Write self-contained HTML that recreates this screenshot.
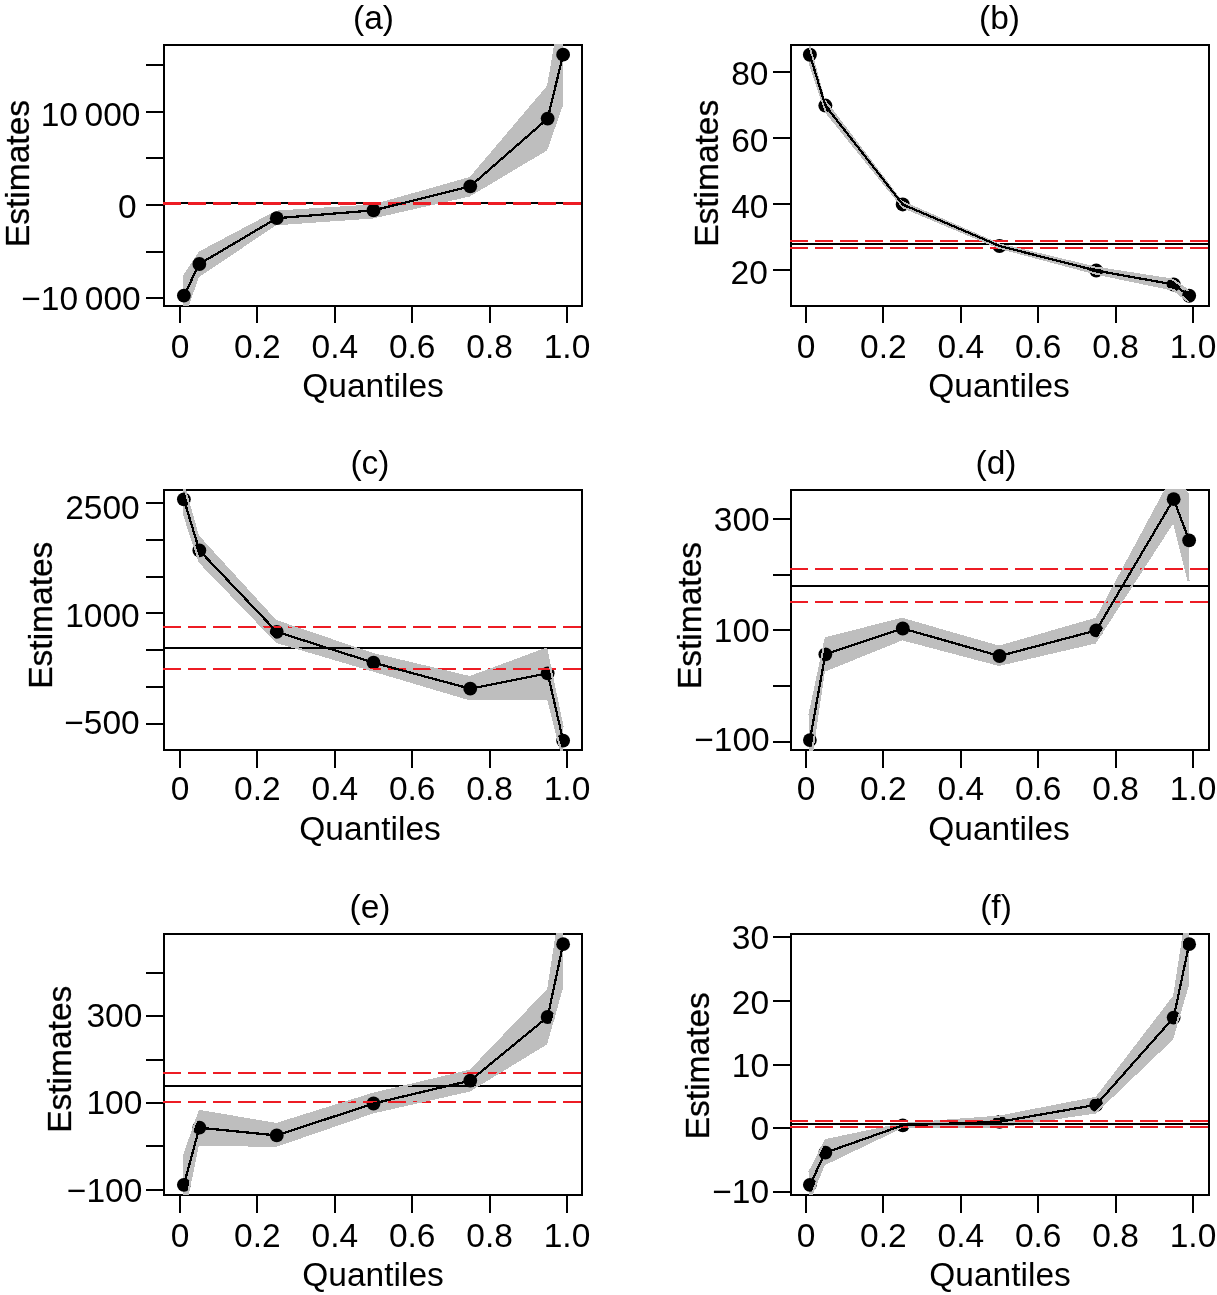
<!DOCTYPE html>
<html><head><meta charset="utf-8"><title>Quantile estimates</title>
<style>
html,body{margin:0;padding:0;background:#fff;}
svg{display:block;}
text{font-family:"Liberation Sans",sans-serif;font-size:33.5px;fill:#000;}
.yt{stroke:#000;stroke-width:0.3px;}
.g{shape-rendering:crispEdges;}
</style></head>
<body>
<svg width="1217" height="1295" viewBox="0 0 1217 1295" style="will-change:transform">
<rect x="0" y="0" width="1217" height="1295" fill="#fff"/>
<!-- panel a -->
<clipPath id="clipa"><rect x="163" y="44" width="420" height="262"/></clipPath>
<g class="g">
<rect x="164" y="45" width="418" height="261" fill="none" stroke="#000" stroke-width="2"/>
<line x1="164" y1="203" x2="582" y2="203" stroke="#000" stroke-width="2"/>
<polygon clip-path="url(#clipa)" fill="#bebebe" points="183.37,275 198.85,251.6 276.25,210.6 373,204.4 469.75,177 547.15,85.7 562.63,-7 562.63,106.3 547.15,150.4 469.75,196.5 373,218.5 276.25,225.3 198.85,277 183.37,322"/>
<line x1="180" y1="307" x2="180" y2="323" stroke="#000" stroke-width="2"/>
<line x1="257" y1="307" x2="257" y2="323" stroke="#000" stroke-width="2"/>
<line x1="335" y1="307" x2="335" y2="323" stroke="#000" stroke-width="2"/>
<line x1="412" y1="307" x2="412" y2="323" stroke="#000" stroke-width="2"/>
<line x1="490" y1="307" x2="490" y2="323" stroke="#000" stroke-width="2"/>
<line x1="567" y1="307" x2="567" y2="323" stroke="#000" stroke-width="2"/>
<line x1="146" y1="65" x2="163" y2="65" stroke="#000" stroke-width="2"/>
<line x1="146" y1="112" x2="163" y2="112" stroke="#000" stroke-width="2"/>
<line x1="146" y1="158" x2="163" y2="158" stroke="#000" stroke-width="2"/>
<line x1="146" y1="205" x2="163" y2="205" stroke="#000" stroke-width="2"/>
<line x1="146" y1="252" x2="163" y2="252" stroke="#000" stroke-width="2"/>
<line x1="146" y1="298" x2="163" y2="298" stroke="#000" stroke-width="2"/>
<circle cx="183.87" cy="295.6" r="6.9" fill="#000" shape-rendering="geometricPrecision"/>
<circle cx="199.35" cy="264" r="6.9" fill="#000" shape-rendering="geometricPrecision"/>
<circle cx="276.75" cy="218.2" r="6.9" fill="#000" shape-rendering="geometricPrecision"/>
<circle cx="373.5" cy="210.4" r="6.9" fill="#000" shape-rendering="geometricPrecision"/>
<circle cx="470.25" cy="186.3" r="6.9" fill="#000" shape-rendering="geometricPrecision"/>
<circle cx="547.65" cy="118.6" r="6.9" fill="#000" shape-rendering="geometricPrecision"/>
<circle cx="563.13" cy="54.7" r="6.9" fill="#000" shape-rendering="geometricPrecision"/>
<line x1="163" y1="202.9" x2="583" y2="202.9" stroke="#ed1c24" stroke-width="2" stroke-dasharray="18.4 6.6"/>
<line x1="163" y1="203.9" x2="583" y2="203.9" stroke="#ed1c24" stroke-width="2" stroke-dasharray="18.4 6.6"/>
<polyline fill="none" stroke="#000" stroke-width="2.25" points="183.87,295.6 199.35,264 276.75,218.2 373.5,210.4 470.25,186.3 547.65,118.6 563.13,54.7"/>
</g>
<text x="373.5" y="28.6" text-anchor="middle">(a)</text>
<text x="180" y="357.5" text-anchor="middle">0</text>
<text x="257.4" y="357.5" text-anchor="middle">0.2</text>
<text x="334.8" y="357.5" text-anchor="middle">0.4</text>
<text x="412.2" y="357.5" text-anchor="middle">0.6</text>
<text x="489.6" y="357.5" text-anchor="middle">0.8</text>
<text x="567" y="357.5" text-anchor="middle">1.0</text>
<text x="373" y="397" text-anchor="middle">Quantiles</text>
<text x="140.5" y="125.8" text-anchor="end">10 000</text>
<text x="136.6" y="217.6" text-anchor="end">0</text>
<text x="140.7" y="309.5" text-anchor="end">−10 000</text>
<text class="yt" transform="translate(29,173.5) rotate(-90)" text-anchor="middle">Estimates</text>
<!-- panel b -->
<clipPath id="clipb"><rect x="790" y="44" width="420" height="262"/></clipPath>
<g class="g">
<rect x="791" y="45" width="418" height="261" fill="none" stroke="#000" stroke-width="2"/>
<polygon clip-path="url(#clipb)" fill="#bebebe" points="809.37,45.82 823.94,99.45 901.61,201.61 998.68,244.15 1095.55,267.58 1172.76,279.65 1188.63,290.93 1188.63,301.91 1173.59,289.77 1095.98,273.63 999.32,247.85 902.87,207.18 825.74,111.81 809.37,62.85"/>
<line x1="806" y1="307" x2="806" y2="323" stroke="#000" stroke-width="2"/>
<line x1="883" y1="307" x2="883" y2="323" stroke="#000" stroke-width="2"/>
<line x1="961" y1="307" x2="961" y2="323" stroke="#000" stroke-width="2"/>
<line x1="1038" y1="307" x2="1038" y2="323" stroke="#000" stroke-width="2"/>
<line x1="1116" y1="307" x2="1116" y2="323" stroke="#000" stroke-width="2"/>
<line x1="1193" y1="307" x2="1193" y2="323" stroke="#000" stroke-width="2"/>
<line x1="773" y1="72" x2="790" y2="72" stroke="#000" stroke-width="2"/>
<line x1="773" y1="138" x2="790" y2="138" stroke="#000" stroke-width="2"/>
<line x1="773" y1="204" x2="790" y2="204" stroke="#000" stroke-width="2"/>
<line x1="773" y1="270" x2="790" y2="270" stroke="#000" stroke-width="2"/>
<circle cx="809.87" cy="54.8" r="7" fill="#000" shape-rendering="geometricPrecision"/>
<circle cx="825.35" cy="105.6" r="7" fill="#000" shape-rendering="geometricPrecision"/>
<circle cx="902.75" cy="204.4" r="7" fill="#000" shape-rendering="geometricPrecision"/>
<circle cx="999.5" cy="246" r="7" fill="#000" shape-rendering="geometricPrecision"/>
<circle cx="1096.25" cy="270.6" r="7" fill="#000" shape-rendering="geometricPrecision"/>
<circle cx="1173.65" cy="284.5" r="7" fill="#000" shape-rendering="geometricPrecision"/>
<circle cx="1189.13" cy="295.8" r="7" fill="#000" shape-rendering="geometricPrecision"/>
<rect x="792" y="241" width="416" height="7" fill="#fff"/>
<clipPath id="clipbw"><rect x="792" y="241" width="416" height="7"/></clipPath>
<polygon clip-path="url(#clipbw)" fill="#bebebe" points="809.37,45.82 823.94,99.45 901.61,201.61 998.68,244.15 1095.55,267.58 1172.76,279.65 1188.63,290.93 1188.63,301.91 1173.59,289.77 1095.98,273.63 999.32,247.85 902.87,207.18 825.74,111.81 809.37,62.85"/>
<line x1="791" y1="244" x2="1209" y2="244" stroke="#000" stroke-width="2"/>
<line x1="789.7" y1="241" x2="1210" y2="241" stroke="#ed1c24" stroke-width="2" stroke-dasharray="18.4 6.6"/>
<line x1="789.7" y1="248" x2="1210" y2="248" stroke="#ed1c24" stroke-width="2" stroke-dasharray="18.4 6.6"/>
<polyline clip-path="url(#clipb)" fill="none" stroke="#bebebe" stroke-width="2" points="809.37,45.82 823.94,99.45 901.61,201.61 998.68,244.15 1095.55,267.58 1172.76,279.65 1188.63,290.93"/>
<polyline clip-path="url(#clipb)" fill="none" stroke="#bebebe" stroke-width="2" points="809.37,62.85 825.74,111.81 902.87,207.18 999.32,247.85 1095.98,273.63 1173.59,289.77 1188.63,301.91"/>
<polyline fill="none" stroke="#000" stroke-width="2.25" points="809.87,54.8 825.35,105.6 902.75,204.4 999.5,246 1096.25,270.6 1173.65,284.5 1189.13,295.8"/>
</g>
<text x="999.5" y="28.6" text-anchor="middle">(b)</text>
<text x="806" y="357.5" text-anchor="middle">0</text>
<text x="883.4" y="357.5" text-anchor="middle">0.2</text>
<text x="960.8" y="357.5" text-anchor="middle">0.4</text>
<text x="1038.2" y="357.5" text-anchor="middle">0.6</text>
<text x="1115.6" y="357.5" text-anchor="middle">0.8</text>
<text x="1193" y="357.5" text-anchor="middle">1.0</text>
<text x="999" y="397" text-anchor="middle">Quantiles</text>
<text x="768.5" y="84.6" text-anchor="end">80</text>
<text x="768.5" y="151.6" text-anchor="end">60</text>
<text x="768.5" y="217.8" text-anchor="end">40</text>
<text x="767.8" y="283.9" text-anchor="end">20</text>
<text class="yt" transform="translate(718.3,173.3) rotate(-90)" text-anchor="middle">Estimates</text>
<!-- panel c -->
<clipPath id="clipc"><rect x="163" y="489" width="420" height="262"/></clipPath>
<g class="g">
<rect x="164" y="490" width="418" height="260" fill="none" stroke="#000" stroke-width="2"/>
<polygon clip-path="url(#clipc)" fill="#bebebe" points="183.37,483.72 197.95,535.9 275.68,620.86 372.72,653.96 469.81,677.04 546.41,648.64 562.63,726.93 562.63,756.92 547.93,698.79 469.89,699.4 373.28,670.64 276.79,642.12 199.73,562.17 183.37,512.82"/>
<line x1="180" y1="751" x2="180" y2="768" stroke="#000" stroke-width="2"/>
<line x1="257" y1="751" x2="257" y2="768" stroke="#000" stroke-width="2"/>
<line x1="335" y1="751" x2="335" y2="768" stroke="#000" stroke-width="2"/>
<line x1="412" y1="751" x2="412" y2="768" stroke="#000" stroke-width="2"/>
<line x1="490" y1="751" x2="490" y2="768" stroke="#000" stroke-width="2"/>
<line x1="567" y1="751" x2="567" y2="768" stroke="#000" stroke-width="2"/>
<line x1="146" y1="503" x2="163" y2="503" stroke="#000" stroke-width="2"/>
<line x1="146" y1="540" x2="163" y2="540" stroke="#000" stroke-width="2"/>
<line x1="146" y1="577" x2="163" y2="577" stroke="#000" stroke-width="2"/>
<line x1="146" y1="613" x2="163" y2="613" stroke="#000" stroke-width="2"/>
<line x1="146" y1="650" x2="163" y2="650" stroke="#000" stroke-width="2"/>
<line x1="146" y1="687" x2="163" y2="687" stroke="#000" stroke-width="2"/>
<line x1="146" y1="724" x2="163" y2="724" stroke="#000" stroke-width="2"/>
<circle cx="183.87" cy="499.3" r="6.9" fill="#000" shape-rendering="geometricPrecision"/>
<circle cx="199.35" cy="550.4" r="6.9" fill="#000" shape-rendering="geometricPrecision"/>
<circle cx="276.75" cy="631.8" r="6.9" fill="#000" shape-rendering="geometricPrecision"/>
<circle cx="373.5" cy="662.7" r="6.9" fill="#000" shape-rendering="geometricPrecision"/>
<circle cx="470.25" cy="688.7" r="6.9" fill="#000" shape-rendering="geometricPrecision"/>
<circle cx="547.65" cy="673.3" r="6.9" fill="#000" shape-rendering="geometricPrecision"/>
<circle cx="563.13" cy="740.6" r="6.9" fill="#000" shape-rendering="geometricPrecision"/>
<line x1="164" y1="648" x2="582" y2="648" stroke="#000" stroke-width="2"/>
<line x1="163" y1="627" x2="583" y2="627" stroke="#ed1c24" stroke-width="2" stroke-dasharray="18.4 6.6"/>
<line x1="163" y1="669" x2="583" y2="669" stroke="#ed1c24" stroke-width="2" stroke-dasharray="18.4 6.6"/>
<polyline clip-path="url(#clipc)" fill="none" stroke="#bebebe" stroke-width="2" points="183.37,483.72 197.95,535.9 275.68,620.86 372.72,653.96 469.81,677.04 546.41,648.64 562.63,726.93"/>
<polyline clip-path="url(#clipc)" fill="none" stroke="#bebebe" stroke-width="2" points="183.37,512.82 199.73,562.17 276.79,642.12 373.28,670.64 469.89,699.4 547.93,698.79 562.63,756.92"/>
<polyline fill="none" stroke="#000" stroke-width="2.25" points="183.87,499.3 199.35,550.4 276.75,631.8 373.5,662.7 470.25,688.7 547.65,673.3 563.13,740.6"/>
</g>
<text x="370" y="473.6" text-anchor="middle">(c)</text>
<text x="180" y="800.3" text-anchor="middle">0</text>
<text x="257.4" y="800.3" text-anchor="middle">0.2</text>
<text x="334.8" y="800.3" text-anchor="middle">0.4</text>
<text x="412.2" y="800.3" text-anchor="middle">0.6</text>
<text x="489.6" y="800.3" text-anchor="middle">0.8</text>
<text x="567" y="800.3" text-anchor="middle">1.0</text>
<text x="370" y="840" text-anchor="middle">Quantiles</text>
<text x="139.7" y="518.9" text-anchor="end">2500</text>
<text x="139.7" y="626.5" text-anchor="end">1000</text>
<text x="139.7" y="733.5" text-anchor="end">−500</text>
<text class="yt" transform="translate(52.4,615.2) rotate(-90)" text-anchor="middle">Estimates</text>
<!-- panel d -->
<clipPath id="clipd"><rect x="790" y="489" width="420" height="262"/></clipPath>
<g class="g">
<rect x="791" y="490" width="418" height="260" fill="none" stroke="#000" stroke-width="2"/>
<polygon clip-path="url(#clipd)" fill="#bebebe" points="809.37,714.81 825.7,638.02 902.23,618.84 999,646.64 1096.43,618.64 1173.31,475.41 1188.63,494.6 1188.63,580.91 1173.56,521.13 1095.13,642.62 999.02,664.97 902.18,639.35 823.94,670.99 809.37,771.06"/>
<line x1="806" y1="751" x2="806" y2="768" stroke="#000" stroke-width="2"/>
<line x1="883" y1="751" x2="883" y2="768" stroke="#000" stroke-width="2"/>
<line x1="961" y1="751" x2="961" y2="768" stroke="#000" stroke-width="2"/>
<line x1="1038" y1="751" x2="1038" y2="768" stroke="#000" stroke-width="2"/>
<line x1="1116" y1="751" x2="1116" y2="768" stroke="#000" stroke-width="2"/>
<line x1="1193" y1="751" x2="1193" y2="768" stroke="#000" stroke-width="2"/>
<line x1="773" y1="519" x2="790" y2="519" stroke="#000" stroke-width="2"/>
<line x1="773" y1="575" x2="790" y2="575" stroke="#000" stroke-width="2"/>
<line x1="773" y1="630" x2="790" y2="630" stroke="#000" stroke-width="2"/>
<line x1="773" y1="686" x2="790" y2="686" stroke="#000" stroke-width="2"/>
<line x1="773" y1="742" x2="790" y2="742" stroke="#000" stroke-width="2"/>
<circle cx="809.87" cy="740.1" r="6.9" fill="#000" shape-rendering="geometricPrecision"/>
<circle cx="825.35" cy="654.3" r="6.9" fill="#000" shape-rendering="geometricPrecision"/>
<circle cx="902.75" cy="628.5" r="6.9" fill="#000" shape-rendering="geometricPrecision"/>
<circle cx="999.5" cy="656" r="6.9" fill="#000" shape-rendering="geometricPrecision"/>
<circle cx="1096.25" cy="630.4" r="6.9" fill="#000" shape-rendering="geometricPrecision"/>
<circle cx="1173.65" cy="499.2" r="6.9" fill="#000" shape-rendering="geometricPrecision"/>
<circle cx="1189.13" cy="540.3" r="6.9" fill="#000" shape-rendering="geometricPrecision"/>
<line x1="791" y1="585.7" x2="1209" y2="585.7" stroke="#000" stroke-width="2"/>
<line x1="789.7" y1="569" x2="1210" y2="569" stroke="#ed1c24" stroke-width="2" stroke-dasharray="18.4 6.6"/>
<line x1="789.7" y1="602" x2="1210" y2="602" stroke="#ed1c24" stroke-width="2" stroke-dasharray="18.4 6.6"/>
<polyline clip-path="url(#clipd)" fill="none" stroke="#bebebe" stroke-width="2" points="809.37,714.81 825.7,638.02 902.23,618.84 999,646.64 1096.43,618.64 1173.31,475.41 1188.63,494.6"/>
<polyline clip-path="url(#clipd)" fill="none" stroke="#bebebe" stroke-width="2" points="809.37,771.06 823.94,670.99 902.18,639.35 999.02,664.97 1095.13,642.62 1173.56,521.13 1188.63,580.91"/>
<polyline fill="none" stroke="#000" stroke-width="2.25" points="809.87,740.1 825.35,654.3 902.75,628.5 999.5,656 1096.25,630.4 1173.65,499.2 1189.13,540.3"/>
</g>
<text x="996" y="473.6" text-anchor="middle">(d)</text>
<text x="806" y="800.3" text-anchor="middle">0</text>
<text x="883.4" y="800.3" text-anchor="middle">0.2</text>
<text x="960.8" y="800.3" text-anchor="middle">0.4</text>
<text x="1038.2" y="800.3" text-anchor="middle">0.6</text>
<text x="1115.6" y="800.3" text-anchor="middle">0.8</text>
<text x="1193" y="800.3" text-anchor="middle">1.0</text>
<text x="999" y="840" text-anchor="middle">Quantiles</text>
<text x="769.7" y="530.8" text-anchor="end">300</text>
<text x="769.7" y="641.7" text-anchor="end">100</text>
<text x="769.7" y="751.4" text-anchor="end">−100</text>
<text class="yt" transform="translate(700.8,615.5) rotate(-90)" text-anchor="middle">Estimates</text>
<!-- panel e -->
<clipPath id="clipe"><rect x="163" y="933" width="420" height="262"/></clipPath>
<g class="g">
<rect x="164" y="934" width="418" height="261" fill="none" stroke="#000" stroke-width="2"/>
<polygon clip-path="url(#clipe)" fill="#bebebe" points="183.37,1157.24 199.52,1110.93 276.32,1123.93 373.26,1093.66 470.27,1070.6 548.09,989.46 562.63,895.54 562.63,985.72 546.29,1043.65 469.37,1090.66 372.73,1112.54 276.09,1145.9 198.04,1144.79 183.37,1215.85"/>
<line x1="180" y1="1196" x2="180" y2="1213" stroke="#000" stroke-width="2"/>
<line x1="257" y1="1196" x2="257" y2="1213" stroke="#000" stroke-width="2"/>
<line x1="335" y1="1196" x2="335" y2="1213" stroke="#000" stroke-width="2"/>
<line x1="412" y1="1196" x2="412" y2="1213" stroke="#000" stroke-width="2"/>
<line x1="490" y1="1196" x2="490" y2="1213" stroke="#000" stroke-width="2"/>
<line x1="567" y1="1196" x2="567" y2="1213" stroke="#000" stroke-width="2"/>
<line x1="146" y1="973" x2="163" y2="973" stroke="#000" stroke-width="2"/>
<line x1="146" y1="1016" x2="163" y2="1016" stroke="#000" stroke-width="2"/>
<line x1="146" y1="1060" x2="163" y2="1060" stroke="#000" stroke-width="2"/>
<line x1="146" y1="1103" x2="163" y2="1103" stroke="#000" stroke-width="2"/>
<line x1="146" y1="1146" x2="163" y2="1146" stroke="#000" stroke-width="2"/>
<line x1="146" y1="1190" x2="163" y2="1190" stroke="#000" stroke-width="2"/>
<circle cx="183.87" cy="1184.8" r="6.9" fill="#000" shape-rendering="geometricPrecision"/>
<circle cx="199.35" cy="1127.7" r="6.9" fill="#000" shape-rendering="geometricPrecision"/>
<circle cx="276.75" cy="1135.4" r="6.9" fill="#000" shape-rendering="geometricPrecision"/>
<circle cx="373.5" cy="1103.5" r="6.9" fill="#000" shape-rendering="geometricPrecision"/>
<circle cx="470.25" cy="1080.6" r="6.9" fill="#000" shape-rendering="geometricPrecision"/>
<circle cx="547.65" cy="1017" r="6.9" fill="#000" shape-rendering="geometricPrecision"/>
<circle cx="563.13" cy="944.2" r="6.9" fill="#000" shape-rendering="geometricPrecision"/>
<line x1="164" y1="1086.4" x2="582" y2="1086.4" stroke="#000" stroke-width="2"/>
<line x1="163" y1="1073" x2="583" y2="1073" stroke="#ed1c24" stroke-width="2" stroke-dasharray="18.4 6.6"/>
<line x1="163" y1="1102" x2="583" y2="1102" stroke="#ed1c24" stroke-width="2" stroke-dasharray="18.4 6.6"/>
<polyline clip-path="url(#clipe)" fill="none" stroke="#bebebe" stroke-width="2" points="183.37,1157.24 199.52,1110.93 276.32,1123.93 373.26,1093.66 470.27,1070.6 548.09,989.46 562.63,895.54"/>
<polyline clip-path="url(#clipe)" fill="none" stroke="#bebebe" stroke-width="2" points="183.37,1215.85 198.04,1144.79 276.09,1145.9 372.73,1112.54 469.37,1090.66 546.29,1043.65 562.63,985.72"/>
<polyline fill="none" stroke="#000" stroke-width="2.25" points="183.87,1184.8 199.35,1127.7 276.75,1135.4 373.5,1103.5 470.25,1080.6 547.65,1017 563.13,944.2"/>
</g>
<text x="370" y="917.6" text-anchor="middle">(e)</text>
<text x="180" y="1246.5" text-anchor="middle">0</text>
<text x="257.4" y="1246.5" text-anchor="middle">0.2</text>
<text x="334.8" y="1246.5" text-anchor="middle">0.4</text>
<text x="412.2" y="1246.5" text-anchor="middle">0.6</text>
<text x="489.6" y="1246.5" text-anchor="middle">0.8</text>
<text x="567" y="1246.5" text-anchor="middle">1.0</text>
<text x="373" y="1286" text-anchor="middle">Quantiles</text>
<text x="142.3" y="1027.2" text-anchor="end">300</text>
<text x="142.3" y="1114.3" text-anchor="end">100</text>
<text x="142.3" y="1202.3" text-anchor="end">−100</text>
<text class="yt" transform="translate(70.8,1059.25) rotate(-90)" text-anchor="middle">Estimates</text>
<!-- panel f -->
<clipPath id="clipf"><rect x="790" y="933" width="420" height="262"/></clipPath>
<g class="g">
<rect x="791" y="934" width="418" height="261" fill="none" stroke="#000" stroke-width="2"/>
<polygon clip-path="url(#clipf)" fill="#bebebe" points="809.37,1172.02 825.53,1140.08 902.39,1123.89 999.13,1116.59 1096.31,1097.71 1174.1,996.1 1188.63,901.58 1188.63,982.72 1172.26,1038.96 1095.29,1112.56 998.92,1126.7 902.02,1127.1 824.07,1164.46 809.37,1199.89"/>
<line x1="806" y1="1196" x2="806" y2="1213" stroke="#000" stroke-width="2"/>
<line x1="883" y1="1196" x2="883" y2="1213" stroke="#000" stroke-width="2"/>
<line x1="961" y1="1196" x2="961" y2="1213" stroke="#000" stroke-width="2"/>
<line x1="1038" y1="1196" x2="1038" y2="1213" stroke="#000" stroke-width="2"/>
<line x1="1116" y1="1196" x2="1116" y2="1213" stroke="#000" stroke-width="2"/>
<line x1="1193" y1="1196" x2="1193" y2="1213" stroke="#000" stroke-width="2"/>
<line x1="773" y1="937" x2="790" y2="937" stroke="#000" stroke-width="2"/>
<line x1="773" y1="1001" x2="790" y2="1001" stroke="#000" stroke-width="2"/>
<line x1="773" y1="1065" x2="790" y2="1065" stroke="#000" stroke-width="2"/>
<line x1="773" y1="1128" x2="790" y2="1128" stroke="#000" stroke-width="2"/>
<line x1="773" y1="1192" x2="790" y2="1192" stroke="#000" stroke-width="2"/>
<circle cx="809.87" cy="1184.8" r="6.9" fill="#000" shape-rendering="geometricPrecision"/>
<circle cx="825.35" cy="1152.7" r="6.9" fill="#000" shape-rendering="geometricPrecision"/>
<circle cx="902.75" cy="1125.3" r="6.9" fill="#000" shape-rendering="geometricPrecision"/>
<circle cx="999.5" cy="1121.8" r="6.9" fill="#000" shape-rendering="geometricPrecision"/>
<circle cx="1096.25" cy="1104.8" r="6.9" fill="#000" shape-rendering="geometricPrecision"/>
<circle cx="1173.65" cy="1017.6" r="6.9" fill="#000" shape-rendering="geometricPrecision"/>
<circle cx="1189.13" cy="944.2" r="6.9" fill="#000" shape-rendering="geometricPrecision"/>
<rect x="792" y="1120.9" width="416" height="5.9" fill="#fff"/>
<clipPath id="clipfw"><rect x="792" y="1120.9" width="416" height="5.9"/></clipPath>
<polygon clip-path="url(#clipfw)" fill="#bebebe" points="809.37,1172.02 825.53,1140.08 902.39,1123.89 999.13,1116.59 1096.31,1097.71 1174.1,996.1 1188.63,901.58 1188.63,982.72 1172.26,1038.96 1095.29,1112.56 998.92,1126.7 902.02,1127.1 824.07,1164.46 809.37,1199.89"/>
<polyline clip-path="url(#clipf)" fill="none" stroke="#bebebe" stroke-width="2" points="809.37,1172.02 825.53,1140.08 902.39,1123.89 999.13,1116.59 1096.31,1097.71 1174.1,996.1 1188.63,901.58"/>
<polyline clip-path="url(#clipf)" fill="none" stroke="#bebebe" stroke-width="2" points="809.37,1199.89 824.07,1164.46 902.02,1127.1 998.92,1126.7 1095.29,1112.56 1172.26,1038.96 1188.63,982.72"/>
<line x1="791" y1="1123.7" x2="1209" y2="1123.7" stroke="#000" stroke-width="2"/>
<line x1="789.7" y1="1120.9" x2="1210" y2="1120.9" stroke="#ed1c24" stroke-width="2" stroke-dasharray="18.4 6.6"/>
<line x1="789.7" y1="1126.8" x2="1210" y2="1126.8" stroke="#ed1c24" stroke-width="2" stroke-dasharray="18.4 6.6"/>
<polyline fill="none" stroke="#000" stroke-width="2.25" points="809.87,1184.8 825.35,1152.7 902.75,1125.3 999.5,1121.8 1096.25,1104.8 1173.65,1017.6 1189.13,944.2"/>
</g>
<text x="996" y="917.6" text-anchor="middle">(f)</text>
<text x="806" y="1246.5" text-anchor="middle">0</text>
<text x="883.4" y="1246.5" text-anchor="middle">0.2</text>
<text x="960.8" y="1246.5" text-anchor="middle">0.4</text>
<text x="1038.2" y="1246.5" text-anchor="middle">0.6</text>
<text x="1115.6" y="1246.5" text-anchor="middle">0.8</text>
<text x="1193" y="1246.5" text-anchor="middle">1.0</text>
<text x="1000" y="1286" text-anchor="middle">Quantiles</text>
<text x="769.1" y="949.4" text-anchor="end">30</text>
<text x="769.1" y="1013.6" text-anchor="end">20</text>
<text x="769.1" y="1076.9" text-anchor="end">10</text>
<text x="769.1" y="1139.6" text-anchor="end">0</text>
<text x="769.1" y="1202.7" text-anchor="end">−10</text>
<text class="yt" transform="translate(708.8,1065.7) rotate(-90)" text-anchor="middle">Estimates</text>
</svg>
</body></html>
